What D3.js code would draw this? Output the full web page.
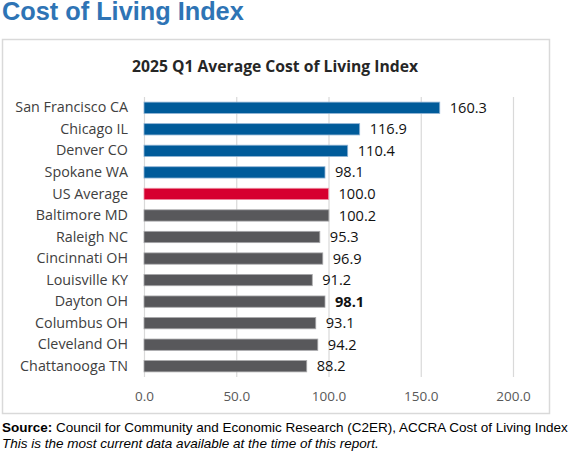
<!DOCTYPE html>
<html>
<head>
<meta charset="utf-8">
<script src="https://cdn.jsdelivr.net/npm/d3@7"></script>
<style>
  body { margin: 0; background: #fff; }
  svg { display: block; }
</style>
</head>
<body>
<script>
// chart data
var cities = ['San Francisco CA', 'Chicago IL', 'Denver CO', 'Spokane WA', 'US Average',
              'Baltimore MD', 'Raleigh NC', 'Cincinnati OH', 'Louisville KY', 'Dayton OH',
              'Columbus OH', 'Cleveland OH', 'Chattanooga TN'];
var values = [160.3, 116.9, 110.4, 98.1, 100.0, 100.2, 95.3, 96.9, 91.2, 98.1, 93.1, 94.2, 88.2];
var groups = ['peer', 'peer', 'peer', 'peer', 'us', 'ohio', 'ohio', 'ohio', 'ohio', 'ohio', 'ohio', 'ohio', 'ohio'];
var xTicks = [0, 50, 100, 150, 200];

var fills = { peer: '#005b9a', us: '#d6002f', ohio: '#58585b' };
var edges = { peer: '#8fb3d4', us: '#ec8fa3', ohio: '#a9a9ab' };

var w = 571, h = 454;
var svg = d3.select('body').append('svg').attr('width', w).attr('height', h);

// page heading
svg.append('text')
  .attr('x', 2).attr('y', 20)
  .attr('font-family', 'Liberation Sans, Arial, sans-serif')
  .attr('font-weight', 'bold').attr('font-size', '25.3px')
  .attr('fill', '#2e74b5')
  .text('Cost of Living Index');

// chart frame
svg.append('rect')
  .attr('x', 2.5).attr('y', 39.5).attr('width', 547).attr('height', 374)
  .attr('fill', '#fff').attr('stroke', '#d9d9d9').attr('stroke-width', 1.5);

svg.append('text')
  .attr('x', 275).attr('y', 71.5)
  .attr('text-anchor', 'middle')
  .attr('font-family', 'Open Sans, sans-serif')
  .attr('font-weight', 'bold').attr('font-size', '15.7px')
  .attr('fill', '#262626')
  .text('2025 Q1 Average Cost of Living Index');

var plotTop = 97, plotBottom = 377;
var x = d3.scaleLinear().domain([0, 200]).range([144, 513]);
var y = d3.scaleBand().domain(cities).range([plotTop, plotBottom])
  .paddingInner(0.475).paddingOuter(0.2375);

// gridlines
var grid = svg.append('g').attr('transform', 'translate(0,' + plotBottom + ')')
  .call(d3.axisBottom(x).tickValues(xTicks).tickSize(-(plotBottom - plotTop)).tickFormat(''));
grid.select('.domain').remove();
grid.selectAll('line').attr('stroke', '#d9d9d9').attr('stroke-width', 1.2);

// x tick labels
var xAxis = svg.append('g').attr('transform', 'translate(0,' + plotBottom + ')')
  .call(d3.axisBottom(x).tickValues(xTicks).tickSize(0).tickPadding(14).tickFormat(d3.format('.1f')));
xAxis.select('.domain').remove();
xAxis.selectAll('text')
  .attr('font-family', 'Open Sans, sans-serif').attr('font-size', '13.5px')
  .attr('fill', '#595959');

// category labels
var yAxis = svg.append('g').attr('transform', 'translate(144,0)')
  .call(d3.axisLeft(y).tickSize(0).tickPadding(16));
yAxis.select('.domain').remove();
yAxis.selectAll('text')
  .attr('font-family', 'Open Sans, sans-serif').attr('font-size', '14.3px')
  .attr('fill', '#404040');

// bars
svg.selectAll('rect.bar')
  .data(values)
  .enter()
  .append('rect')
  .attr('class', 'bar')
  .attr('x', x(0))
  .attr('y', function(d, i) { return y(cities[i]); })
  .attr('width', function(d) { return x(d) - x(0); })
  .attr('height', y.bandwidth())
  .attr('fill', function(d, i) { return fills[groups[i]]; })
  .attr('stroke', function(d, i) { return edges[groups[i]]; })
  .attr('stroke-width', 0.8);

// value labels
svg.selectAll('text.val')
  .data(values)
  .enter()
  .append('text')
  .attr('class', 'val')
  .attr('x', function(d) { return x(d) + 10; })
  .attr('y', function(d, i) { return y(cities[i]) + y.bandwidth() / 2; })
  .attr('dy', '0.35em')
  .attr('font-family', 'Open Sans, sans-serif').attr('font-size', '14.6px')
  .attr('font-weight', function(d, i) { return cities[i] === 'Dayton OH' ? 'bold' : 'normal'; })
  .attr('fill', '#111')
  .text(function(d) { return d3.format('.1f')(d); });

// source notes
var src = svg.append('text')
  .attr('x', 2).attr('y', 432)
  .attr('font-family', 'Liberation Sans, Arial, sans-serif').attr('font-size', '13.5px')
  .attr('fill', '#000');
src.append('tspan').attr('font-weight', 'bold').text('Source:');
src.append('tspan').text(' Council for Community and Economic Research (C2ER), ACCRA Cost of Living Index');

svg.append('text')
  .attr('x', 2).attr('y', 447.5)
  .attr('font-family', 'Liberation Sans, Arial, sans-serif').attr('font-size', '13.5px')
  .attr('font-style', 'italic').attr('fill', '#000')
  .text('This is the most current data available at the time of this report.');
</script>
</body>
</html>
